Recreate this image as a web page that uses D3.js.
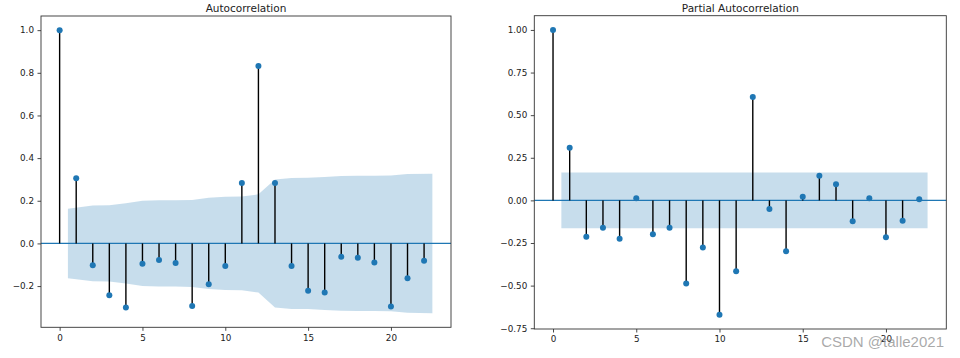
<!DOCTYPE html>
<html><head><meta charset="utf-8">
<script src="https://cdn.jsdelivr.net/npm/d3@7"></script>
<style>body{margin:0;background:#fff;} svg{display:block;}</style>
</head><body>
<svg id="chart" width="960" height="358"></svg>
<script>
// ---- data ----
const lags = d3.range(0, 23);
const acfValues = [1.0, 0.305, -0.102, -0.243, -0.300, -0.095, -0.078, -0.092, -0.294, -0.191, -0.106, 0.283,
  0.832, 0.283, -0.106, -0.222, -0.230, -0.063, -0.067, -0.089, -0.296, -0.163, -0.081];
const pacfValues = [1.0, 0.309, -0.214, -0.161, -0.225, 0.012, -0.198, -0.161, -0.488, -0.276, -0.671, -0.416,
  0.607, -0.051, -0.298, 0.022, 0.145, 0.094, -0.122, 0.012, -0.216, -0.120, 0.006];
const bandLags = [0.5, 2, 3, 4, 5, 6, 7, 8, 9, 10, 11, 12, 13, 14, 15, 16, 17, 18, 19, 20, 21, 22.5];
const acfBand = [0.163, 0.178, 0.179, 0.188, 0.200, 0.202, 0.202, 0.204, 0.214, 0.219, 0.220, 0.230,
  0.300, 0.307, 0.308, 0.312, 0.316, 0.317, 0.317, 0.318, 0.325, 0.327];
const pacfBand = bandLags.map(() => 0.163);
const acfTicks = [-0.2, 0.0, 0.2, 0.4, 0.6, 0.8, 1.0];
const pacfTicks = [-0.75, -0.50, -0.25, 0.00, 0.25, 0.50, 0.75, 1.00];
const xTicks = [0, 5, 10, 15, 20];
const titles = ["Autocorrelation", "Partial Autocorrelation"];

const C0 = "#1f77b4";
const svg = d3.select("#chart");
const minus = s => s.replace("-", "\u2212");

function panel(box, values, band, yTicks, fmt, title) {
  const g = svg.append("g");
  const xMin = 0, xMax = d3.max(bandLags);
  const xm = (xMax - xMin) * 0.05;
  const x = d3.scaleLinear().domain([xMin - xm, xMax + xm]).range([box.l, box.r]);
  const lo = Math.min(d3.min(values), -d3.max(band));
  const hi = Math.max(d3.max(values), d3.max(band));
  const ym = (hi - lo) * 0.05;
  const y = d3.scaleLinear().domain([lo - ym, hi + ym]).range([box.b, box.t]);

  // band
  const area = d3.area().x((d, i) => x(bandLags[i])).y0(d => y(-d)).y1(d => y(d));
  g.append("path").datum(band).attr("d", area).attr("fill", C0).attr("fill-opacity", 0.25);

  // zero line
  g.append("line").attr("x1", box.l).attr("x2", box.r).attr("y1", y(0)).attr("y2", y(0))
    .attr("stroke", C0).attr("stroke-width", 1.4);

  // stems
  g.selectAll(".stem").data(values).join("line")
    .attr("x1", (d, i) => x(lags[i])).attr("x2", (d, i) => x(lags[i]))
    .attr("y1", y(0)).attr("y2", d => y(d))
    .attr("stroke", "#000").attr("stroke-width", 1.4);
  g.selectAll(".dot").data(values).join("circle")
    .attr("cx", (d, i) => x(lags[i])).attr("cy", d => y(d)).attr("r", 3)
    .attr("fill", C0);

  // frame
  g.append("rect").attr("x", box.l).attr("y", box.t).attr("width", box.r - box.l).attr("height", box.b - box.t)
    .attr("fill", "none").attr("stroke", "#333").attr("stroke-width", 0.9);

  // axes
  const xa = g.append("g").attr("transform", `translate(0,${box.b})`)
    .call(d3.axisBottom(x).tickValues(xTicks).tickSizeOuter(0).tickSize(3.5).tickPadding(3.5).tickFormat(d3.format("d")));
  const ya = g.append("g").attr("transform", `translate(${box.l},0)`)
    .call(d3.axisLeft(y).tickValues(yTicks).tickSizeOuter(0).tickSize(3.5).tickPadding(3.5).tickFormat(d => minus(fmt(d))));
  [xa, ya].forEach(a => {
    a.select(".domain").remove();
    a.selectAll("line").attr("stroke", "#333").attr("stroke-width", 0.9);
    a.selectAll("text").attr("fill", "#222").style("font-family", "DejaVu Sans").style("font-size", "8.8px");
  });

  g.append("text").attr("x", (box.l + box.r) / 2).attr("y", 12).attr("text-anchor", "middle")
    .style("font-family", "DejaVu Sans").style("font-size", "10.5px").attr("fill", "#222").text(title);
}

panel({l: 41, r: 451, t: 16, b: 327.3}, acfValues, acfBand, acfTicks, d3.format(".1f"), titles[0]);
panel({l: 534.3, r: 946.3, t: 15.7, b: 329}, pacfValues, pacfBand, pacfTicks, d3.format(".2f"), titles[1]);

svg.append("text").attr("x", 944).attr("y", 346.5).attr("text-anchor", "end")
  .style("font-family", "Liberation Sans").style("font-size", "15px").attr("fill", "#9a9a9a")
  .attr("fill-opacity", 0.85).text("CSDN @talle2021");
</script>
</body></html>
